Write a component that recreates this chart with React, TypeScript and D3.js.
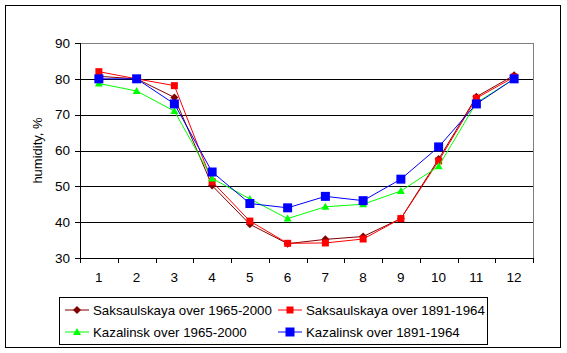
import React from 'react';
import * as d3 from 'd3';

const months = ['1', '2', '3', '4', '5', '6', '7', '8', '9', '10', '11', '12'];
const yTicks = [30, 40, 50, 60, 70, 80, 90];

const saks6500 = [80.7, 80, 74.8, 50.2, 39.4, 34, 35.2, 36, 41, 57.6, 75, 81];
const saks9164 = [82, 80, 78.1, 51.3, 40.3, 34.1, 34.2, 35.3, 41, 57.1, 74.6, 80.5];
const kaz6500 = [78.7, 76.6, 71, 52.2, 46.5, 41, 44.3, 45, 48.7, 55.6, 73.3, 80];
const kaz9164 = [80, 80, 73, 54, 45.2, 44, 47.2, 46, 52, 61, 73, 80];

const series = [
  { name: 'Saksaulskaya over 1965-2000', values: saks6500, color: '#800000', marker: 'diamond' },
  { name: 'Saksaulskaya over 1891-1964', values: saks9164, color: '#FF0000', marker: 'square' },
  { name: 'Kazalinsk over 1965-2000', values: kaz6500, color: '#00FF00', marker: 'triangle' },
  { name: 'Kazalinsk over 1891-1964', values: kaz9164, color: '#0000FF', marker: 'bigsquare' },
];

const W = 567;
const H = 353;
const margin = { top: 43, right: 34, bottom: 95, left: 80 };
const font = 'Arial, "Liberation Sans", sans-serif';

const Marker = ({ type, x, y, color }) => {
  if (type === 'diamond') {
    return <path d={`M${x},${y - 4}L${x + 4},${y}L${x},${y + 4}L${x - 4},${y}Z`} fill={color} />;
  }
  if (type === 'triangle') {
    return <path d={`M${x},${y - 4}L${x + 4},${y + 3}L${x - 4},${y + 3}Z`} fill={color} />;
  }
  const s = type === 'bigsquare' ? 9 : 7;
  return <rect x={x - s / 2} y={y - s / 2} width={s} height={s} fill={color} />;
};

export default function App() {
  const x = d3.scaleBand().domain(months).range([margin.left, W - margin.right]);
  const y = d3.scaleLinear().domain([30, 90]).range([H - margin.bottom, margin.top]);
  const cx = (m) => x(m) + x.bandwidth() / 2;
  const line = d3.line<number>()
    .x((_, i) => cx(months[i]))
    .y(d => y(d));

  const left = margin.left;
  const right = W - margin.right;
  const bottom = y(30);

  const legendPos = [
    { lx: 65, ly: 310 },
    { lx: 278, ly: 310 },
    { lx: 65, ly: 332 },
    { lx: 278, ly: 332 },
  ];

  return (
    <svg width={W} height={H} style={{ position: 'absolute', left: 0, top: 0, background: '#fff' }}
      fontFamily={font} fontSize={13}>
      <rect x={5.5} y={5.5} width={555} height={342} fill="#fff" stroke="#000" />
      {/* plot frame */}
      <line x1={left} x2={right} y1={y(90) + 0.5} y2={y(90) + 0.5} stroke="#808080" />
      <line x1={right + 0.5} x2={right + 0.5} y1={y(90)} y2={bottom} stroke="#808080" />
      {yTicks.filter(t => t > 30 && t < 90).map(t => (
        <line key={t} x1={left} x2={right} y1={Math.round(y(t)) + 0.5} y2={Math.round(y(t)) + 0.5} stroke="#000" />
      ))}
      {/* axes */}
      <line x1={left + 0.5} x2={left + 0.5} y1={y(90)} y2={bottom} stroke="#000" />
      <line x1={left - 4} x2={right + 1} y1={Math.round(bottom) + 0.5} y2={Math.round(bottom) + 0.5} stroke="#000" />
      {yTicks.map(t => (
        <g key={t}>
          <line x1={left - 5} x2={left} y1={Math.round(y(t)) + 0.5} y2={Math.round(y(t)) + 0.5} stroke="#000" />
          <text x={left - 10} y={y(t)} dy="0.35em" textAnchor="end" fontSize={13.5}>{t}</text>
        </g>
      ))}
      {months.map(m => (
        <g key={m}>
          <line x1={Math.round(x(m)) + 0.5} x2={Math.round(x(m)) + 0.5} y1={bottom} y2={bottom + 5} stroke="#000" />
          <text x={cx(m)} y={bottom + 24} textAnchor="middle" fontSize={13.5}>{m}</text>
        </g>
      ))}
      <line x1={right + 0.5} x2={right + 0.5} y1={bottom} y2={bottom + 5} stroke="#000" />
      <text transform={`translate(42,${(y(90) + bottom) / 2}) rotate(-90)`} textAnchor="middle">humidity, %</text>

      {series.map(s => (
        <g key={s.name}>
          <path d={line(s.values)} fill="none" stroke={s.color} strokeWidth={1} />
          {s.values.map((v, i) => (
            <Marker key={i} type={s.marker} x={cx(months[i])} y={y(v)} color={s.color} />
          ))}
        </g>
      ))}

      {/* legend */}
      <rect x={59.5} y={297.5} width={428} height={47} fill="#fff" stroke="#000" />
      {series.map((s, i) => {
        const { lx, ly } = legendPos[i];
        return (
          <g key={s.name}>
            <line x1={lx} x2={lx + 24} y1={ly} y2={ly} stroke={s.color} />
            <Marker type={s.marker} x={lx + 12} y={ly} color={s.color} />
            <text x={lx + 28} y={ly} dy="0.35em" fontSize={13.3}>{s.name}</text>
          </g>
        );
      })}
    </svg>
  );
}
